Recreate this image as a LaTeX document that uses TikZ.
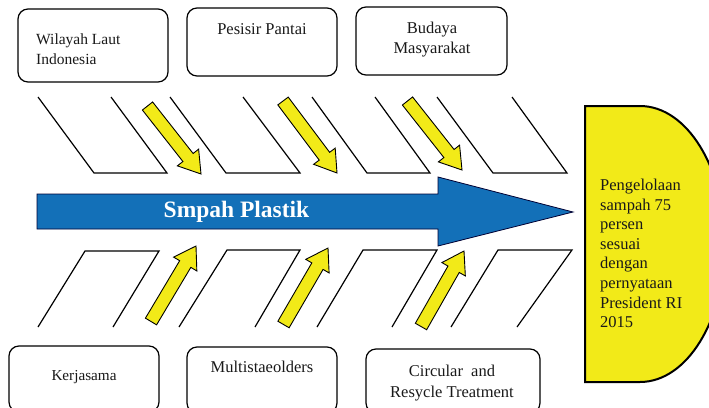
\documentclass[tikz,border=0pt]{standalone}
\usepackage{fontspec}
\setmainfont{Liberation Serif}
\usetikzlibrary{calc}
\definecolor{fishblue}{RGB}{19,112,184}
\definecolor{fishyellow}{RGB}{242,234,24}
\definecolor{txtgray}{RGB}{25,25,25}
\newcommand\yblockarrow[2]{%
  \coordinate (hb) at ($(#2)!21pt!(#1)$);
  \draw[yarrow] ($(#1)!6.5pt!90:(#2)$) -- ($(hb)!6.5pt!90:(#2)$) -- ($(hb)!13.5pt!90:(#2)$)
    -- (#2) -- ($(hb)!13.5pt!-90:(#2)$) -- ($(hb)!6.5pt!-90:(#2)$) -- ($(#1)!6.5pt!-90:(#2)$) -- cycle;}
\tikzset{
  box/.style={draw=black, line width=1.2pt, rounded corners=10pt, inner sep=0pt},
  rib/.style={draw=black, line width=1.2pt},
  yarrow/.style={draw=black, line width=0.9pt, fill=fishyellow, line join=miter},
  bluearrow/.style={draw=black!80!blue, line width=0.8pt, fill=fishblue},
  goal/.style={draw=black, line width=2pt, fill=fishyellow},
  lbl/.style={font=\fontsize{16.5}{20}\selectfont, text=txtgray, inner sep=0pt},
}
\begin{document}
\begin{tikzpicture}[x=1pt,y=-1pt]
\useasboundingbox (0,0) rectangle (709,407);
\clip (0,0) rectangle (709,407);
\fill[white] (0,0) rectangle (709,407);

% top boxes
\node[box, minimum width=150pt, minimum height=73pt] (t1) at (93,45.5) {};
\node[box, minimum width=150pt, minimum height=68pt] (t2) at (262,42) {};
\node[box, minimum width=151pt, minimum height=68pt] (t3) at (431.5,41) {};
\node[lbl, font=\fontsize{15.5}{20}\selectfont, align=left, anchor=west] (t1txt) at (36,49.5) {Wilayah Laut\\Indonesia};
\node[lbl] (t2txt) at (262,29) {Pesisir Pantai};
\node[lbl, align=center, font=\fontsize{16.5}{20.5}\selectfont] (t3txt) at (432,39.5) {Budaya\\Masyarakat};

% bottom boxes
\node[box, minimum width=150pt, minimum height=66pt] (b1) at (84,379) {};
\node[box, minimum width=150pt, minimum height=66pt] (b2) at (262,380) {};
\node[box, minimum width=174pt, minimum height=64pt] (b3) at (453,381) {};
\node[lbl, font=\fontsize{15.2}{20}\selectfont] (b1txt) at (84,377) {Kerjasama};
\node[lbl] (b2txt) at (262,367) {Multistaeolders};
\node[lbl, align=center, font=\fontsize{16.5}{21}\selectfont] (b3txt) at (452,383) {Circular~ and\\Resycle Treatment};

% upper ribs
\draw[rib] (38,97) -- (94,173) -- (167,173) -- (111,97);
\draw[rib] (170,97) -- (226,173) -- (300,173) -- (243,97);
\draw[rib] (312,97) -- (367,173) -- (430,173) -- (375,97);
\draw[rib] (437,97) -- (493,173) -- (567,173) -- (512,97);

% lower ribs
\draw[rib] (38,327) -- (85,251) -- (159,251) -- (113,327);
\draw[rib] (179,327) -- (227,250) -- (300,250) -- (255,327);
\draw[rib] (317,327) -- (363,250) -- (437,250) -- (392,327);
\draw[rib] (451,327) -- (498,250) -- (572,250) -- (517,327);

% main arrow
\draw[bluearrow] (37,194) -- (438,194) -- (438,177) -- (573,212) -- (438,246) -- (438,229) -- (37,229) -- cycle;
\node[font=\fontsize{23.5}{28}\selectfont\bfseries, text=white, inner sep=0pt] (main) at (236.5,212) {Smpah Plastik};

% goal
\draw[goal] (585,106) -- (640,106) .. controls (687,106) and (725,168) .. (725,244)
  .. controls (725,320) and (687,382) .. (640,382) -- (585,382) -- cycle;
\node[lbl, font=\fontsize{16.5}{19.6}\selectfont, align=left, anchor=west] (goaltxt) at (600,253.5)
  {Pengelolaan\\sampah 75\\persen\\sesuai\\dengan\\pernyataan\\President RI\\2015};

% yellow arrows
\coordinate (d1t) at (147.5,106); \coordinate (d1h) at (201,174);
\coordinate (d2t) at (283,101);   \coordinate (d2h) at (337,173);
\coordinate (d3t) at (407.5,101); \coordinate (d3h) at (462,170);
\coordinate (u1t) at (151,321.5); \coordinate (u1h) at (196,246);
\coordinate (u2t) at (283.5,324.5); \coordinate (u2h) at (328,248);
\coordinate (u3t) at (421,326.5); \coordinate (u3h) at (464,251);
\yblockarrow{d1t}{d1h}
\yblockarrow{d2t}{d2h}
\yblockarrow{d3t}{d3h}
\yblockarrow{u1t}{u1h}
\yblockarrow{u2t}{u2h}
\yblockarrow{u3t}{u3h}
\end{tikzpicture}
\end{document}
